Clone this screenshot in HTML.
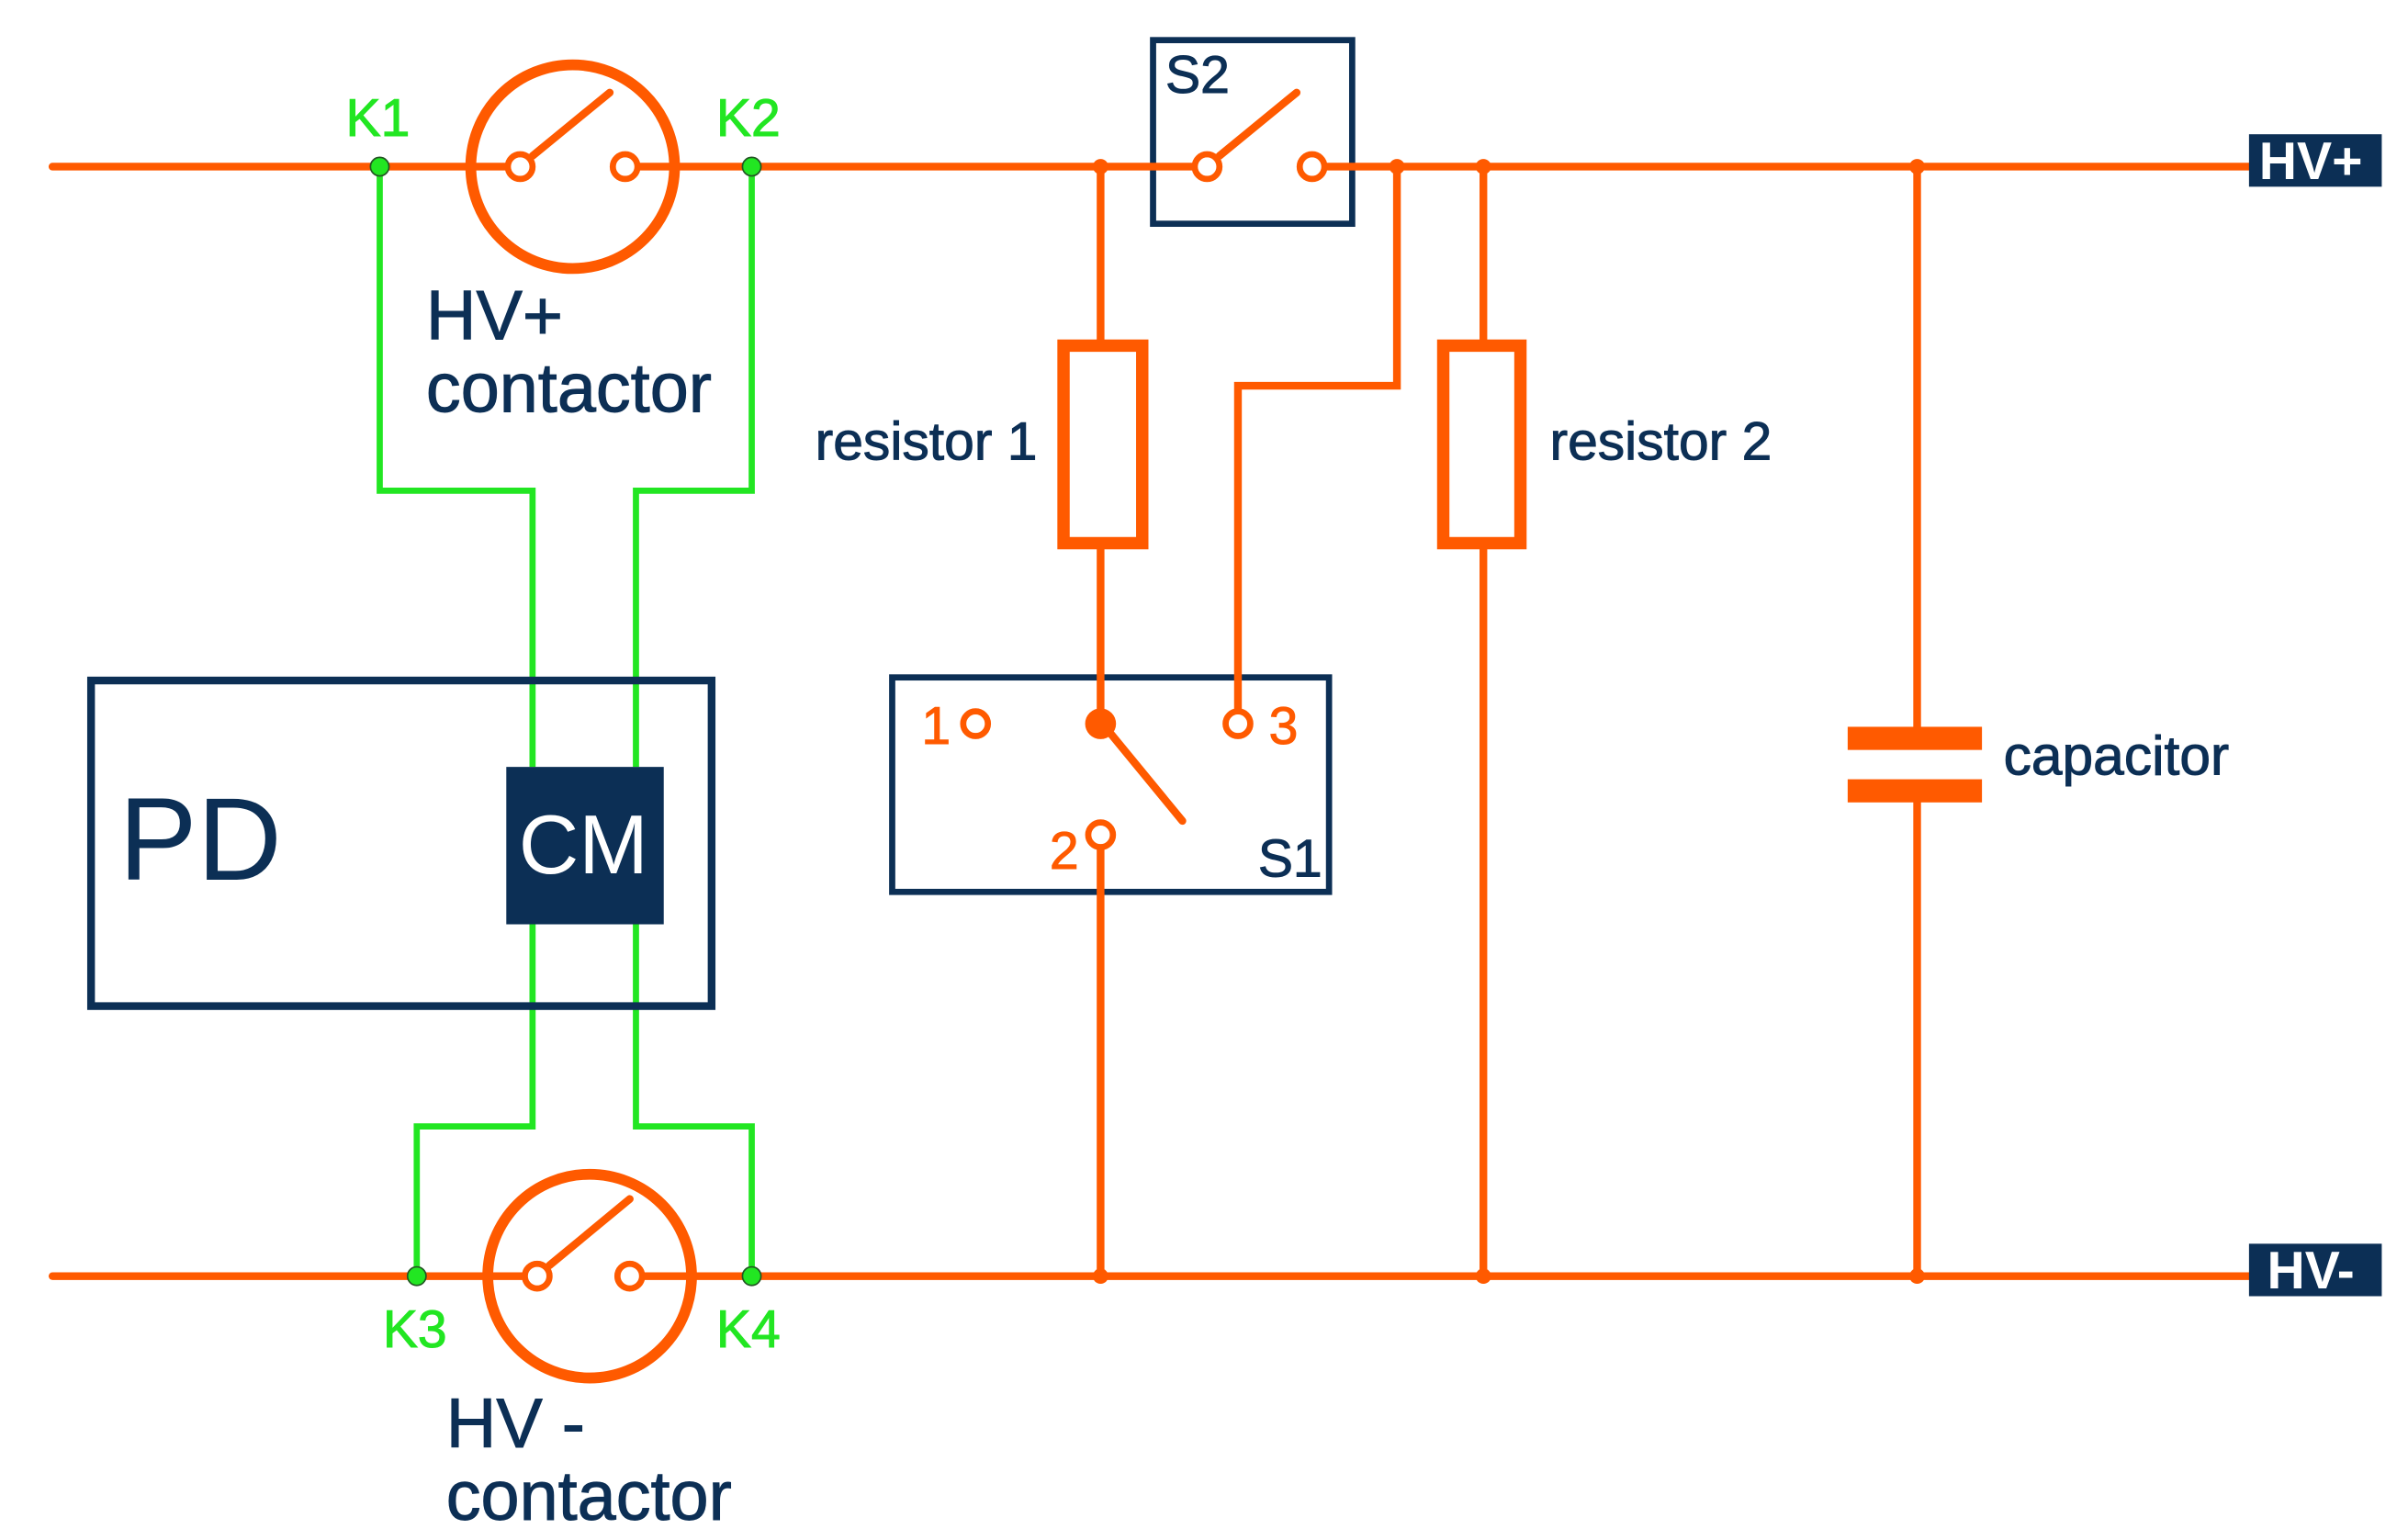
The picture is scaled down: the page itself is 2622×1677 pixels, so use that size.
<!DOCTYPE html>
<html><head><meta charset="utf-8"><style>html,body{margin:0;padding:0;background:#fff}svg{display:block}</style></head>
<body>
<svg width="2622" height="1677" viewBox="0 0 1560 998" preserveAspectRatio="none" xmlns="http://www.w3.org/2000/svg" font-family="Liberation Sans, sans-serif">
<g fill="none" stroke="#22e622" stroke-width="4">
<polyline points="246,108 246,318 345,318 345,497"/>
<polyline points="487,108 487,318 412,318 412,497"/>
<polyline points="345,599 345,730 270,730 270,827"/>
<polyline points="412,599 412,730 487,730 487,827"/>
</g>
<rect x="59" y="441" width="402" height="211" fill="none" stroke="#0c2f55" stroke-width="5"/>
<rect x="328" y="497" width="102" height="102" fill="#0c2f55"/>
<text x="378" y="566" font-size="54" fill="#fff" text-anchor="middle">CM</text>
<text x="77" y="570" font-size="76" fill="#0c2f55">PD</text>
<rect x="747" y="26" width="129" height="119" fill="none" stroke="#0c2f55" stroke-width="4"/>
<rect x="578" y="439" width="283" height="139" fill="none" stroke="#0c2f55" stroke-width="4"/>
<g stroke="#ff5a00" stroke-width="5" fill="none" stroke-linecap="round">
<line x1="34" y1="108" x2="329" y2="108"/>
<line x1="413" y1="108" x2="774" y2="108"/>
<line x1="858" y1="108" x2="1460" y2="108"/>
<line x1="34" y1="827" x2="340" y2="827"/>
<line x1="416" y1="827" x2="1460" y2="827"/>
<circle cx="371" cy="108" r="66" stroke-width="7"/>
<circle cx="382" cy="827" r="66" stroke-width="7"/>
<line x1="345" y1="101" x2="395" y2="60"/>
<line x1="356" y1="820" x2="408" y2="777"/>
<line x1="790" y1="101" x2="840" y2="60"/>
<line x1="713" y1="108" x2="713" y2="224"/>
<line x1="713" y1="352" x2="713" y2="469"/>
<rect x="689" y="224" width="51" height="128" stroke-width="8"/>
<rect x="935" y="224" width="50" height="128" stroke-width="8"/>
<line x1="961" y1="108" x2="961" y2="224"/>
<line x1="961" y1="352" x2="961" y2="827"/>
<polyline points="905,108 905,250 802,250 802,461"/>
<line x1="720" y1="476" x2="766" y2="532"/>
<line x1="713" y1="549" x2="713" y2="827"/>
<line x1="1242" y1="108" x2="1242" y2="471"/>
<line x1="1242" y1="520" x2="1242" y2="827"/>
</g>
<g fill="#fff" stroke="#ff5a00" stroke-width="4">
<circle cx="337" cy="108" r="8"/><circle cx="405" cy="108" r="8"/>
<circle cx="348" cy="827" r="8"/><circle cx="408" cy="827" r="8"/>
<circle cx="782" cy="108" r="8"/><circle cx="850" cy="108" r="8"/>
<circle cx="632" cy="469" r="8"/><circle cx="802" cy="469" r="8"/><circle cx="713" cy="541" r="8"/>
</g>
<g fill="#ff5a00">
<circle cx="713" cy="469" r="10"/>
<circle cx="713" cy="108" r="5"/><circle cx="905" cy="108" r="5"/><circle cx="961" cy="108" r="5"/><circle cx="1242" cy="108" r="5"/>
<circle cx="713" cy="827" r="5"/><circle cx="961" cy="827" r="5"/><circle cx="1242" cy="827" r="5"/>
<rect x="1197" y="471" width="87" height="15"/>
<rect x="1197" y="505" width="87" height="15"/>
</g>
<g fill="#22e622" stroke="#225522" stroke-width="1">
<circle cx="246" cy="108" r="6"/><circle cx="487" cy="108" r="6"/>
<circle cx="270" cy="827" r="6"/><circle cx="487" cy="827" r="6"/>
</g>
<g fill="#22e622" font-size="34" stroke="#22e622" stroke-width="0.6">
<text x="224" y="88">K1</text><text x="464" y="88">K2</text>
<text x="248" y="873">K3</text><text x="464" y="873">K4</text>
</g>
<g fill="#ff5a00" font-size="34" stroke="#ff5a00" stroke-width="0.6">
<text x="597" y="482">1</text><text x="822" y="482">3</text><text x="680" y="563">2</text>
</g>
<g fill="#0c2f55" stroke="#0c2f55" stroke-width="0.6">
<text x="276" y="220" font-size="45">HV+</text>
<text x="276" y="267" font-size="45">contactor</text>
<text x="289" y="938" font-size="45">HV -</text>
<text x="289" y="985" font-size="45">contactor</text>
<text x="672" y="298" font-size="35" text-anchor="end">resistor 1</text>
<text x="1004" y="298" font-size="35">resistor 2</text>
<text x="1298" y="502" font-size="36">capacitor</text>
<text x="755" y="60" font-size="34">S2</text>
<text x="815" y="568" font-size="34">S1</text>
</g>
<g fill="#0c2f55">
<rect x="1457" y="87" width="86" height="34"/>
<rect x="1457" y="806" width="86" height="34"/>
<text x="1497" y="116" font-size="34" font-weight="bold" fill="#fff" text-anchor="middle">HV+</text>
<text x="1497" y="835" font-size="34" font-weight="bold" fill="#fff" text-anchor="middle">HV-</text>
</g>
</svg>
</body></html>
